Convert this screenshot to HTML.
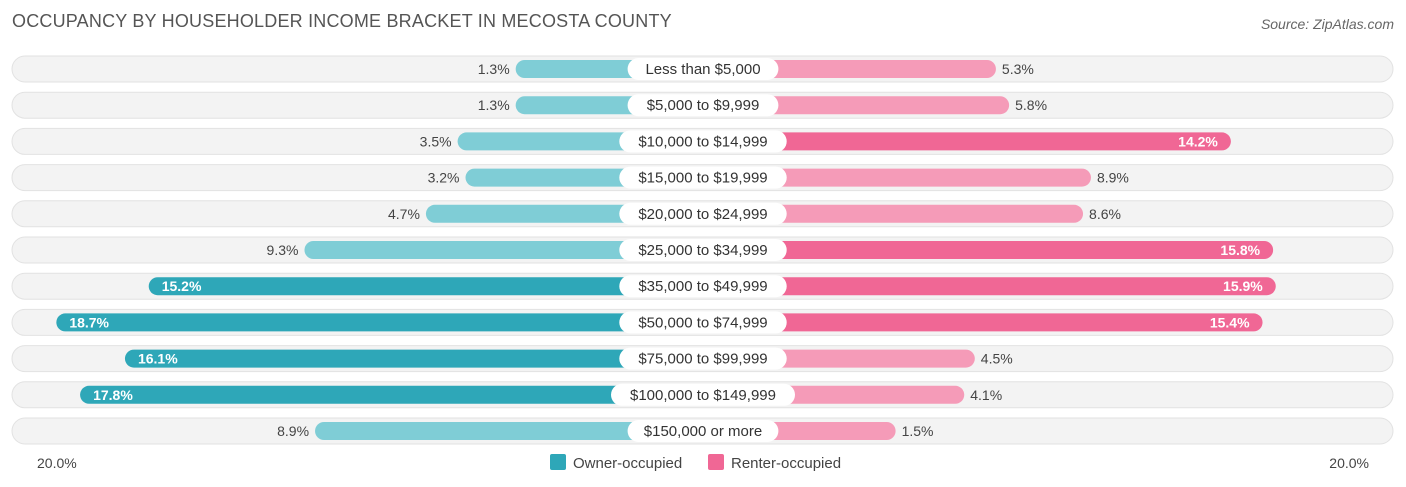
<!DOCTYPE html>
<html><head><meta charset="utf-8">
<style>
body{margin:0;background:#fff;font-family:"Liberation Sans",sans-serif;}
#wrap{position:relative;width:1406px;height:487px;overflow:hidden;}
.title{position:absolute;left:12px;top:11px;font-size:18px;color:#555;letter-spacing:0.2px}
.src{position:absolute;right:12px;top:16px;font-size:14px;color:#666;font-style:italic}
</style></head><body>
<div id="wrap">
<div class="title">OCCUPANCY BY HOUSEHOLDER INCOME BRACKET IN MECOSTA COUNTY</div>
<div class="src">Source: ZipAtlas.com</div>
<svg id="svg" width="1406" height="487" style="position:absolute;left:0;top:0"></svg>
</div>
<script>
const categories=["Less than $5,000","$5,000 to $9,999","$10,000 to $14,999","$15,000 to $19,999","$20,000 to $24,999","$25,000 to $34,999","$35,000 to $49,999","$50,000 to $74,999","$75,000 to $99,999","$100,000 to $149,999","$150,000 or more"];
const owner=[1.3,1.3,3.5,3.2,4.7,9.3,15.2,18.7,16.1,17.8,8.9];
const renter=[5.3,5.8,14.2,8.9,8.6,15.8,15.9,15.4,4.5,4.1,1.5];
const axisLabels=["20.0%","20.0%"];
const NS="http://www.w3.org/2000/svg";
const svg=document.getElementById('svg');
const cx=703,off=153,k=26.4,y0=69,dy=36.2;
const xL=v=>cx-off-v*k, xR=v=>cx+off+v*k, yRow=i=>y0+i*dy;
function mk(t,a){const e=document.createElementNS(NS,t);for(const n in a)e.setAttribute(n,a[n]);svg.appendChild(e);return e;}
categories.forEach((c,i)=>{
 const y=yRow(i);
 const bg=mk('rect',{x:12,y:y-13,width:1381,height:26,rx:13,fill:'#f3f3f3',stroke:'#e2e2e2'});
 
 
 const ov=owner[i],rv=renter[i];
 const od=ov>10,rd=rv>10;
 const ob=mk('rect',{x:xL(ov),y:y-9,width:cx-xL(ov),height:18,rx:9,fill:od?'#2ea7b8':'#7fcdd6'});
 
 
 const rb=mk('rect',{x:cx,y:y-9,width:xR(rv)-cx,height:18,rx:9,fill:rd?'#f06795':'#f59bb8'});
 
 
 const lw=c.length*8.3+18;
 const lb=mk('rect',{x:cx-lw/2,y:y-11,width:lw,height:22,rx:11,fill:'#fff'});
 
 
 const ct=mk('text',{x:cx,y:y+5,'text-anchor':'middle','font-size':15,fill:'#333'});ct.textContent=c;
 
 
 const ot=od?mk('text',{x:xL(ov)+13,y:y+5,'font-size':14,fill:'#fff','font-weight':'bold'}):mk('text',{x:xL(ov)-6,y:y+5,'font-size':14,fill:'#444','text-anchor':'end'});
 ot.textContent=ov.toFixed(1)+'%';
 
 
 const rt=rd?mk('text',{x:xR(rv)-13,y:y+5,'font-size':14,fill:'#fff','font-weight':'bold','text-anchor':'end'}):mk('text',{x:xR(rv)+6,y:y+5,'font-size':14,fill:'#444'});
 rt.textContent=rv.toFixed(1)+'%';
 
 
});
const a1=mk('text',{x:37,y:468,'font-size':14,fill:'#444'});a1.textContent=axisLabels[0];


const a2=mk('text',{x:1369,y:468,'font-size':14,fill:'#444','text-anchor':'end'});a2.textContent=axisLabels[1];


const l1=mk('rect',{x:550,y:454,width:16,height:16,rx:2,fill:'#2ea7b8'});


const t1=mk('text',{x:573,y:468,'font-size':15,fill:'#444'});t1.textContent='Owner-occupied';


const l2=mk('rect',{x:708,y:454,width:16,height:16,rx:2,fill:'#f06795'});


const t2=mk('text',{x:731,y:468,'font-size':15,fill:'#444'});t2.textContent='Renter-occupied';


</script>
</body></html>
